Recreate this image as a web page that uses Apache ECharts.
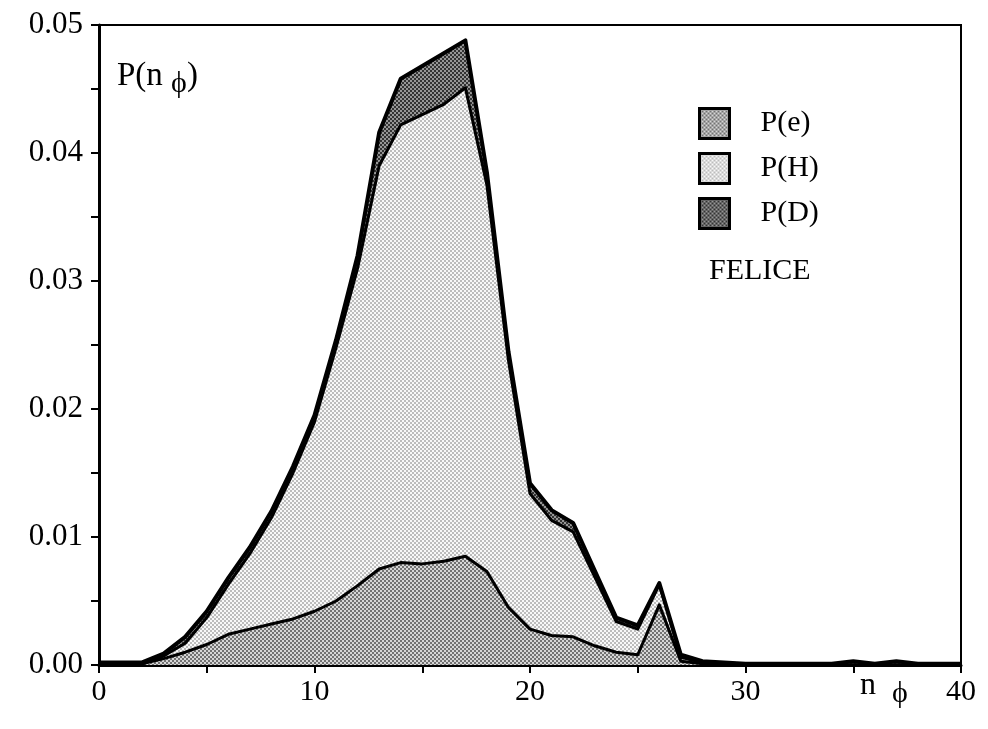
<!DOCTYPE html>
<html>
<head>
<meta charset="utf-8">
<script src="https://cdn.jsdelivr.net/npm/echarts@6/dist/echarts.min.js"></script>
<style>
  html, body { margin: 0; padding: 0; background: #fff; }
  #chart { width: 988px; height: 729px; }
</style>
</head>
<body>
<div id="chart"></div>
<script>
// n_phi values
var nPhi = [0, 1, 2, 3, 4, 5, 6, 7, 8, 9, 10, 11, 12, 13, 14, 15, 16, 17, 18, 19, 20,
            21, 22, 23, 24, 25, 26, 27, 28, 29, 30, 31, 32, 33, 34, 35, 36, 37, 38, 39, 40];
// stacked components (bottom -> top)
var pE = [0.0001, 0.0001, 0.0001, 0.0005, 0.0010, 0.0016, 0.0024, 0.0028, 0.0032, 0.0036, 0.0042,
          0.0050, 0.0062, 0.0075, 0.0080, 0.0079, 0.0081, 0.0085, 0.0073, 0.0045, 0.0028,
          0.0023, 0.0022, 0.0015, 0.0010, 0.0008, 0.0047, 0.0003, 0.0001, 0.0001, 0,
          0, 0, 0, 0, 0, 0, 0, 0, 0, 0];
var pH = [0, 0, 0, 0.0002, 0.0007, 0.0021, 0.0039, 0.0059, 0.0083, 0.0114, 0.0148,
          0.0198, 0.0248, 0.0315, 0.0342, 0.0351, 0.0357, 0.0366, 0.0302, 0.0193, 0.0106,
          0.0090, 0.0082, 0.0054, 0.0024, 0.0020, 0.0016, 0.0003, 0.0001, 0, 0,
          0, 0, 0, 0, 0, 0, 0, 0, 0, 0];
var pD = [0.0001, 0.0001, 0.0001, 0.0002, 0.0005, 0.0005, 0.0005, 0.0005, 0.0005, 0.0005, 0.0005,
          0.0006, 0.0010, 0.0026, 0.0036, 0.0038, 0.0040, 0.0037, 0.0010, 0.0007, 0.0008,
          0.0008, 0.0007, 0.0005, 0.0003, 0.0003, 0.0001, 0.0002, 0.0001, 0.0001, 0.0001,
          0.0001, 0.0001, 0.0001, 0.0001, 0.0003, 0.0001, 0.0003, 0.0001, 0.0001, 0.0001];
var seriesNames = ['P(e)', 'P(H)', 'P(D)'];

// halftone-like dot pattern
function dots(bg, fg) {
  var c = document.createElement('canvas');
  c.width = 4; c.height = 4;
  var ctx = c.getContext('2d');
  ctx.fillStyle = bg; ctx.fillRect(0, 0, 4, 4);
  ctx.fillStyle = fg;
  ctx.fillRect(0, 0, 2, 2);
  ctx.fillRect(2, 2, 2, 2);
  return { image: c, repeat: 'repeat' };
}
var fills = [dots('#d6d6d6', '#727272'), dots('#f8f8f8', '#bcbcbc'), dots('#969696', '#333333')];
var lineW = [3, 3, 4];

// cumulative tops, drawn back to front (total first)
var topE = pE.slice();
var topH = pE.map(function (v, i) { return v + pH[i]; });
var topD = topH.map(function (v, i) { return v + pD[i]; });
var tops = [topE, topH, topD];

function pairs(arr) {
  return nPhi.map(function (n, i) { return [n, +arr[i].toFixed(5)]; });
}

var serif = '"Liberation Serif", "DejaVu Serif", serif';
var myChart = echarts.init(document.getElementById('chart'));
var order = [2, 1, 0];
var option = {
  animation: false,
  backgroundColor: '#fff',
  grid: {
    left: 99, right: 27, top: 25, bottom: 64,
    show: true, borderColor: '#000', borderWidth: 2
  },
  legend: {
    orient: 'vertical',
    left: 693, top: 102,
    itemWidth: 30, itemHeight: 30, itemGap: 12,
    icon: 'rect',
    data: seriesNames,
    itemStyle: { borderColor: '#000', borderWidth: 3 },
    textStyle: { fontFamily: serif, fontSize: 30, color: '#000', padding: [0, 0, 0, 26] }
  },
  xAxis: {
    type: 'value', min: 0, max: 40, interval: 10,
    axisLine: { lineStyle: { color: '#000', width: 3 } },
    axisTick: { length: 8, lineStyle: { color: '#000', width: 2 } },
    minorTick: { show: true, splitNumber: 2, length: 8, lineStyle: { color: '#000', width: 2 } },
    splitLine: { show: false },
    axisLabel: { fontFamily: serif, fontSize: 30, color: '#000', margin: 12 }
  },
  yAxis: {
    type: 'value', min: 0, max: 0.05, interval: 0.01,
    axisLine: { show: true, lineStyle: { color: '#000', width: 3 } },
    axisTick: { show: true, length: 8, lineStyle: { color: '#000', width: 2 } },
    minorTick: { show: true, splitNumber: 2, length: 8, lineStyle: { color: '#000', width: 2 } },
    splitLine: { show: false },
    axisLabel: {
      fontFamily: serif, fontSize: 31, color: '#000', margin: 16,
      formatter: function (v) { return v.toFixed(2); }
    }
  },
  graphic: [
    {
      type: 'text', left: 117, top: 60,
      style: {
        text: '{a|P(n }{b|ϕ}{a|)}',
        rich: {
          a: { fontFamily: serif, fontSize: 33, fill: '#000' },
          b: { fontFamily: serif, fontSize: 30, fill: '#000', padding: [16, 0, 0, 0] }
        }
      }
    },
    {
      type: 'text', left: 860, top: 670,
      style: {
        text: '{a|n  }{b|ϕ}',
        rich: {
          a: { fontFamily: serif, fontSize: 32, fill: '#000' },
          b: { fontFamily: serif, fontSize: 30, fill: '#000', padding: [16, 0, 0, 0] }
        }
      }
    },
    {
      type: 'text', left: 709, top: 256,
      style: { text: 'FELICE', fontFamily: serif, fontSize: 30, fill: '#000' }
    }
  ],
  series: order.map(function (k) {
    return {
      name: seriesNames[k],
      type: 'line',
      symbol: 'none',
      smooth: false,
      data: pairs(tops[k]),
      itemStyle: { color: fills[k], borderColor: '#000' },
      lineStyle: { color: '#000', width: lineW[k], join: 'round' },
      areaStyle: { color: fills[k], opacity: 1 }
    };
  })
};
myChart.setOption(option);
</script>
</body>
</html>
